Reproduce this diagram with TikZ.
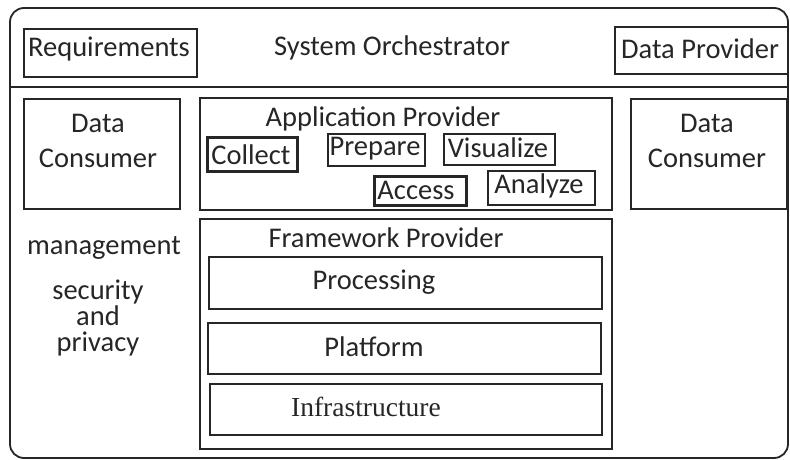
\documentclass[tikz,border=0pt]{standalone}
\usepackage{fontspec}
\setmainfont{Carlito}
\newfontfamily\serifa{Liberation Serif}
\begin{document}
\begin{tikzpicture}[x=1pt,y=-1pt,
  box/.style={draw=black!85, line width=1.8pt, inner sep=0pt, anchor=north west},
  thickbox/.style={box, line width=2.6pt},
  txt/.style={font=\fontsize{28.5}{30}\selectfont, inner sep=0pt, text=black!85},
  ]
\useasboundingbox (0,0) rectangle (790,460);
% outer frame
\draw[draw=black!85, line width=1.8pt, rounded corners=14pt] (10,8) rectangle (788,458);
\coordinate (divL) at (10,87);
\coordinate (divR) at (788,87);
\draw[draw=black!85, line width=1.8pt] (divL) -- (divR);

% top row
\node[box, minimum width=173, minimum height=48] (req) at (23,28) {};
\node[txt] at (109,49) {Requirements};
\node[txt] (orch) at (392,48) {System Orchestrator};
\node[box, minimum width=173, minimum height=47] (dprov) at (614,26) {};
\node[txt] at (700,49) {Data Provider};

% data consumers
\node[box, minimum width=156, minimum height=110] (dcL) at (23,98) {};
\node[txt, align=center] at (98,141) {Data\\[5pt]Consumer};
\node[box, minimum width=156, minimum height=110] (dcR) at (630,98) {};
\node[txt, align=center] at (707,141) {Data\\[5pt]Consumer};

% application provider
\node[box, minimum width=412, minimum height=112] (app) at (199,97) {};
\node[txt] (apptitle) at (383,119) {Application Provider};
\node[thickbox, minimum width=90, minimum height=34] (collect) at (206,136) {};
\node[txt] at (251,155) {Collect};
\node[box, minimum width=97, minimum height=32] (prepare) at (327,133) {};
\node[txt] at (375,149) {Prepare};
\node[box, minimum width=111, minimum height=31] (visual) at (443,133) {};
\node[txt] at (498,148) {Visualize};
\node[thickbox, minimum width=92, minimum height=29] (access) at (373,175) {};
\node[txt] at (416,190) {Access};
\node[box, minimum width=107, minimum height=34] (analyze) at (487,170) {};
\node[txt] at (539,186) {Analyze};

% framework provider
\node[box, minimum width=412, minimum height=230] (fw) at (199,218) {};
\node[txt] (fwtitle) at (386,238) {Framework Provider};
\node[box, minimum width=393, minimum height=52] (proc) at (208,256) {};
\node[txt] at (374,282) {Processing};
\node[box, minimum width=393, minimum height=51] (plat) at (207,322) {};
\node[txt] at (374,347) {Platform};
\node[box, minimum width=392, minimum height=51] (infra) at (209,383) {};
\node[txt, font=\serifa\fontsize{27.5}{28}\selectfont] at (366,407) {Infrastructure};

% left labels
\node[txt] (mgmt) at (104,248) {management};
\node[txt, align=center, font=\fontsize{28.5}{26}\selectfont] (sec) at (98,318) {security\\and\\privacy};
\end{tikzpicture}
\end{document}
